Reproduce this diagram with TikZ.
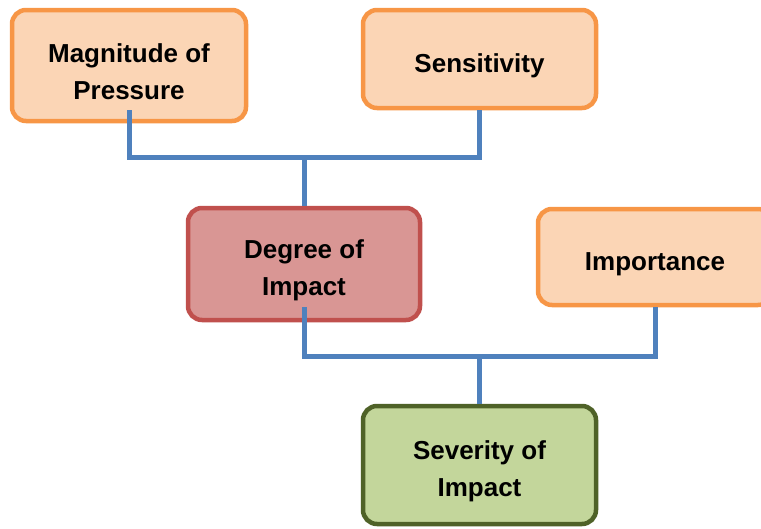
\documentclass[tikz,border=0pt]{standalone}
\usepackage{fontspec}
\setmainfont{Liberation Sans}
\usetikzlibrary{calc}
\definecolor{inedge}{HTML}{F79646}
\definecolor{infill}{HTML}{FBD5B5}
\definecolor{midedge}{HTML}{C0504D}
\definecolor{midfill}{HTML}{D99694}
\definecolor{outedge}{HTML}{4F6228}
\definecolor{outfill}{HTML}{C3D69B}
\definecolor{linkblue}{HTML}{4F81BD}
\newcommand{\toppad}{\rule{0pt}{32pt}}

\begin{document}
\begin{tikzpicture}[x=1pt, y=-1pt,
	box/.style={rounded corners=14pt, line width=4.5pt, align=center, inner sep=0pt, font=\fontsize{26}{37}\selectfont\bfseries},
	inbox/.style={box, draw=inedge, fill=infill},
	midbox/.style={box, draw=midedge, fill=midfill},
	outbox/.style={box, draw=outedge, fill=outfill},
	link/.style={draw=linkblue, line width=5pt}]
\useasboundingbox (0,0) rectangle (761,528);

\node[inbox, minimum width=234pt, minimum height=111pt](mag) at (129,65.5){\toppad Magnitude of\\Pressure};
\node[inbox, minimum width=233pt, minimum height=98pt](sens) at (479.5,59){\toppad Sensitivity};
\node[midbox, minimum width=232pt, minimum height=112pt](deg) at (304,264){\toppad Degree of\\Impact};
\node[inbox, minimum width=234pt, minimum height=96pt](imp) at (655,257){\toppad Importance};
\node[outbox, minimum width=233pt, minimum height=118pt](sev) at (479.5,465){\toppad Severity of\\Impact};

\coordinate (top) at (0,157);
\coordinate (low) at (0,356);

\draw[link] ($(mag.south)+(0,-13)$)--(mag.south|-top)--(sens.south|-top)--(sens.south)
	(deg.north|-top)--(deg.north);
\draw[link] ($(deg.south)+(0,-15)$)--(deg.south|-low)--(imp.south|-low)--(imp.south)
	(sev.north|-low)--(sev.north);
\end{tikzpicture}
\end{document}
